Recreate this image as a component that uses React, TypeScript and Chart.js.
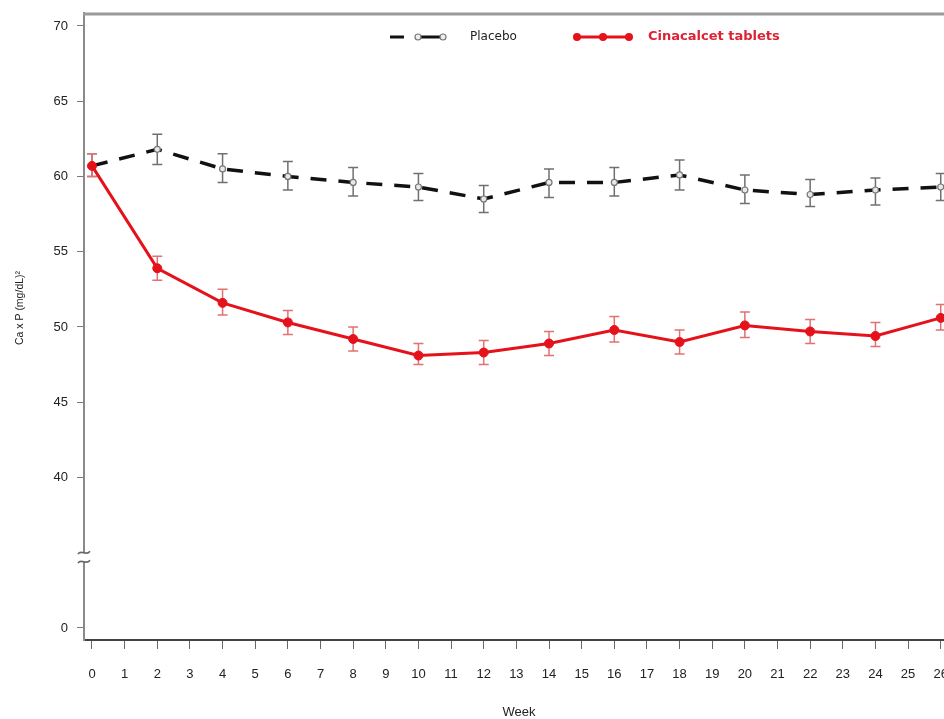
import { useEffect, useRef } from "react";
import { Chart, registerables } from "chart.js";

Chart.register(...registerables);

const weeks = [0, 2, 4, 6, 8, 10, 12, 14, 16, 18, 20, 22, 24, 26];
const placeboMean = [60.7, 61.8, 60.5, 60.0, 59.6, 59.3, 58.5, 59.6, 59.6, 60.1, 59.1, 58.8, 59.1, 59.3];
const placeboLower = [60.0, 60.8, 59.6, 59.1, 58.7, 58.4, 57.6, 58.6, 58.7, 59.1, 58.2, 58.0, 58.1, 58.4];
const placeboUpper = [61.5, 62.8, 61.5, 61.0, 60.6, 60.2, 59.4, 60.5, 60.6, 61.1, 60.1, 59.8, 59.9, 60.2];
const cinaMean = [60.7, 53.9, 51.6, 50.3, 49.2, 48.1, 48.3, 48.9, 49.8, 49.0, 50.1, 49.7, 49.4, 50.6];
const cinaLower = [60.0, 53.1, 50.8, 49.5, 48.4, 47.5, 47.5, 48.1, 49.0, 48.2, 49.3, 48.9, 48.7, 49.8];
const cinaUpper = [61.5, 54.7, 52.5, 51.1, 50.0, 48.9, 49.1, 49.7, 50.7, 49.8, 51.0, 50.5, 50.3, 51.5];

const xTickValues = [0, 1, 2, 3, 4, 5, 6, 7, 8, 9, 10, 11, 12, 13, 14, 15, 16, 17, 18, 19, 20, 21, 22, 23, 24, 25, 26];
// axis is broken: the position of 30 is labelled "0"
const yTickValues = [30, 40, 45, 50, 55, 60, 65, 70];
const yTickLabels = ["0", "40", "45", "50", "55", "60", "65", "70"];
const yBreakValue = 34.7;

const seriesLabels = ["Placebo", "Cinacalcet tablets"];
const xTitle = "Week";
const yTitle = "Ca x P (mg/dL)\u00B2";

const PLACEBO_COLOR = "#111111";
const CINA_COLOR = "#e5121b";

const errorBarPlugin = {
  id: "errorBars",
  beforeDatasetsDraw(chart: any) {
    const { ctx } = chart;
    const xs = chart.scales.x;
    const ys = chart.scales.y;
    const sets = [
      { lo: placeboLower, hi: placeboUpper, color: "#707070" },
      { lo: cinaLower, hi: cinaUpper, color: "#e07272" },
    ];
    ctx.save();
    ctx.lineWidth = 1.5;
    sets.forEach((s) => {
      ctx.strokeStyle = s.color;
      weeks.forEach((w, i) => {
        const x = xs.getPixelForValue(w);
        const y1 = ys.getPixelForValue(s.lo[i]);
        const y2 = ys.getPixelForValue(s.hi[i]);
        ctx.beginPath();
        ctx.moveTo(x, y1);
        ctx.lineTo(x, y2);
        ctx.moveTo(x - 5, y1);
        ctx.lineTo(x + 5, y1);
        ctx.moveTo(x - 5, y2);
        ctx.lineTo(x + 5, y2);
        ctx.stroke();
      });
    });
    ctx.restore();
  },
};

const decorPlugin = {
  id: "decor",
  afterDraw(chart: any) {
    const { ctx, chartArea } = chart;
    const ys = chart.scales.y;
    ctx.save();
    // top frame line
    ctx.strokeStyle = "#9a9a9a";
    ctx.lineWidth = 3;
    ctx.beginPath();
    ctx.moveTo(chartArea.left - 1, chartArea.top + 1);
    ctx.lineTo(chartArea.right, chartArea.top + 1);
    ctx.stroke();

    // axis break
    const by = ys.getPixelForValue(yBreakValue);
    const bx = chartArea.left;
    ctx.fillStyle = "#ffffff";
    ctx.fillRect(bx - 3, by - 4, 6, 8);
    ctx.strokeStyle = "#666";
    ctx.lineWidth = 1.6;
    [by - 4.5, by + 4.5].forEach((yy) => {
      ctx.beginPath();
      ctx.moveTo(bx - 6, yy + 1.5);
      ctx.bezierCurveTo(bx - 3, yy - 4, bx + 2, yy + 4, bx + 6, yy - 1.5);
      ctx.stroke();
    });

    // legend
    const ly = 37;
    const labels = chart.data.datasets.map((d: any) => d.label);
    // placebo symbol
    ctx.strokeStyle = PLACEBO_COLOR;
    ctx.lineWidth = 3;
    ctx.beginPath();
    ctx.moveTo(390, ly);
    ctx.lineTo(404, ly);
    ctx.moveTo(421, ly);
    ctx.lineTo(440, ly);
    ctx.stroke();
    [418, 443].forEach((cx) => {
      ctx.beginPath();
      ctx.arc(cx, ly, 3, 0, Math.PI * 2);
      ctx.fillStyle = "#eeeeee";
      ctx.fill();
      ctx.strokeStyle = "#777";
      ctx.lineWidth = 1.2;
      ctx.stroke();
    });
    ctx.fillStyle = "#222";
    ctx.font = "12px 'DejaVu Sans'";
    ctx.textAlign = "left";
    ctx.textBaseline = "middle";
    ctx.fillText(labels[1], 470, ly);
    // cinacalcet symbol
    ctx.strokeStyle = CINA_COLOR;
    ctx.lineWidth = 3;
    ctx.beginPath();
    ctx.moveTo(574, ly);
    ctx.lineTo(631, ly);
    ctx.stroke();
    ctx.fillStyle = CINA_COLOR;
    [577, 603, 629].forEach((cx) => {
      ctx.beginPath();
      ctx.arc(cx, ly, 4, 0, Math.PI * 2);
      ctx.fill();
    });
    ctx.fillStyle = "#dd2233";
    ctx.font = "bold 13px 'DejaVu Sans'";
    ctx.fillText(labels[0], 648, ly);

    // axis titles
    ctx.fillStyle = "#222";
    ctx.font = "13px 'Liberation Sans'";
    ctx.textAlign = "center";
    ctx.fillText(xTitle, 519, 712);
    ctx.save();
    ctx.translate(20, 308);
    ctx.rotate(-Math.PI / 2);
    ctx.font = "10.5px 'Liberation Sans'";
    ctx.fillText(yTitle, 0, 0);
    ctx.restore();
    ctx.restore();
  },
};

export default function App() {
  const ref = useRef<HTMLCanvasElement | null>(null);
  useEffect(() => {
    document.body.style.margin = "0";
    const canvas = ref.current;
    if (!canvas) return;
    const chart = new Chart(canvas, {
      type: "line",
      data: {
        datasets: [
          {
            label: seriesLabels[1],
            data: weeks.map((w, i) => ({ x: w, y: cinaMean[i] })),
            borderColor: CINA_COLOR,
            backgroundColor: CINA_COLOR,
            borderWidth: 3,
            pointRadius: 4.5,
            pointBackgroundColor: CINA_COLOR,
            pointBorderColor: CINA_COLOR,
            pointBorderWidth: 1,
            tension: 0,
            order: 1,
          },
          {
            label: seriesLabels[0],
            data: weeks.map((w, i) => ({ x: w, y: placeboMean[i] })),
            borderColor: PLACEBO_COLOR,
            backgroundColor: PLACEBO_COLOR,
            borderWidth: 3.5,
            borderDash: [16, 12],
            pointRadius: 3,
            pointBackgroundColor: "#e8e8e8",
            pointBorderColor: "#777",
            pointBorderWidth: 1.2,
            tension: 0,
            order: 2,
          },
        ],
      },
      options: {
        responsive: false,
        animation: false,
        events: [],
        layout: { autoPadding: false, padding: { top: 13, right: 0, bottom: 0, left: 0 } },
        plugins: { legend: { display: false }, tooltip: { enabled: false } },
        scales: {
          x: {
            type: "linear",
            min: -0.245,
            max: 26.1,
            afterBuildTicks: (s: any) => {
              s.ticks = xTickValues.map((v) => ({ value: v }));
            },
            afterFit: (s: any) => {
              s.height = 79;
              s.paddingLeft = 0;
              s.paddingRight = 0;
            },
            ticks: {
              autoSkip: false,
              maxRotation: 0,
              minRotation: 0,
              padding: 18,
              color: "#222",
              font: { family: "'Liberation Sans'", size: 13 },
              callback: (v: any) => String(v),
            },
            grid: { drawOnChartArea: false, drawTicks: true, tickLength: 9, color: "#666", lineWidth: 1 },
            border: { display: true, color: "#444", width: 2 },
          },
          y: {
            type: "linear",
            min: 29.2,
            max: 70.86,
            afterBuildTicks: (s: any) => {
              s.ticks = yTickValues.map((v) => ({ value: v }));
            },
            afterFit: (s: any) => {
              s.width = 84;
              s.paddingTop = 0;
              s.paddingBottom = 0;
            },
            ticks: {
              padding: 9,
              color: "#222",
              font: { family: "'Liberation Sans'", size: 13 },
              callback: (v: any) => {
                const i = yTickValues.indexOf(Number(v));
                return i >= 0 ? yTickLabels[i] : "";
              },
            },
            grid: { drawOnChartArea: false, drawTicks: true, tickLength: 7, color: "#777", lineWidth: 1 },
            border: { display: true, color: "#8a8a8a", width: 2 },
          },
        },
      },
      plugins: [errorBarPlugin, decorPlugin],
    } as any);
    return () => chart.destroy();
  }, []);
  return (
    <div style={{ width: 944, height: 719, background: "#fff" }}>
      <canvas ref={ref} width={944} height={719} style={{ display: "block" }} />
    </div>
  );
}
